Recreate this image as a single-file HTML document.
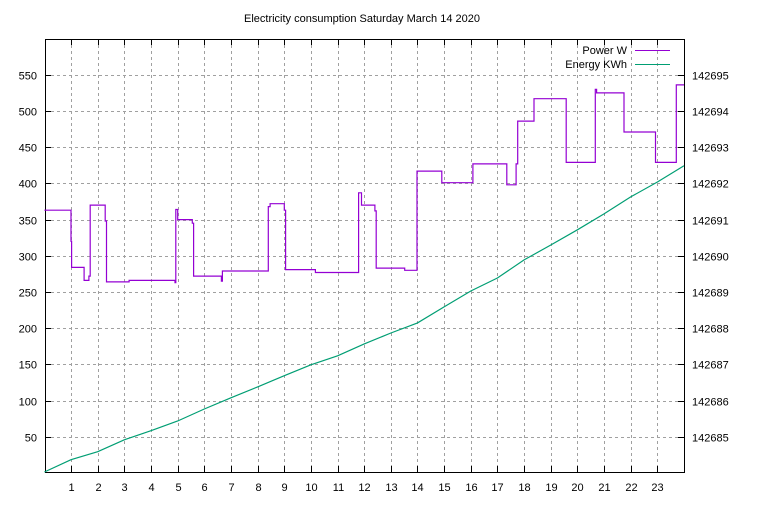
<!DOCTYPE html>
<html><head><meta charset="utf-8"><style>
body{margin:0;background:#fff;}
svg text{font-family:"Liberation Sans",sans-serif;font-size:11px;fill:#000;}
</style></head><body>
<svg id="c" width="768" height="500"></svg>
<script>
const powerHours=[0,1.0,1.02,1.49,1.67,1.72,2.28,2.33,3.18,4.9,4.93,5.0,5.55,5.6,6.64,6.68,8.4,8.47,9.0,9.05,10.17,11.79,11.9,12.4,12.45,13.52,13.98,14.91,16.08,17.35,17.7,17.76,18.37,19.58,20.67,20.72,21.75,22.93,23.71,24];
const powerWatts=[363,320,284,266,272,370,348,264,266,263,364,350,345,272,265,279,368,372,363,281,277,387,370,362,283,280,417,401,427,398,427,486,517,429,530,525,471,429,536,536];
const energyHours=[0,1,2,3,4,5,6,7,8,9,10,11,12,13,14,15,16,17,18,19,20,21,22,23,24];
const energyKWh=[142684.03,142684.37,142684.59,142684.92,142685.17,142685.44,142685.77,142686.08,142686.38,142686.69,142686.99,142687.24,142687.57,142687.87,142688.15,142688.59,142689.03,142689.39,142689.89,142690.30,142690.72,142691.16,142691.63,142692.04,142692.49];
const leftTicks=[50,100,150,200,250,300,350,400,450,500,550];
const rightTicks=[142685,142686,142687,142688,142689,142690,142691,142692,142693,142694,142695];
const xTicks=[1,2,3,4,5,6,7,8,9,10,11,12,13,14,15,16,17,18,19,20,21,22,23];

const L=45,R=684,T=39,B=472;
const xs=h=>44.4+h*(R-44.4)/24;
const yL=w=>473-w*0.724;
const yR=v=>472-(v-142684.03)*36.2;
const svg=document.getElementById('c');
const NS='http://www.w3.org/2000/svg';
function mk(tag,attrs,parent){const e=document.createElementNS(NS,tag);for(const k in attrs)e.setAttribute(k,attrs[k]);(parent||svg).appendChild(e);return e;}

const title=mk('text',{x:362,y:22,'text-anchor':'middle'});


title.textContent='Electricity consumption Saturday March 14 2020';

const grid=mk('g',{stroke:'#a0a0a0','stroke-width':1,'stroke-dasharray':'3,3'});


xTicks.forEach(h=>{const x=Math.round(xs(h))+0.5;mk('line',{x1:x,y1:T,x2:x,y2:B},grid);
 const t=mk('text',{x:x,y:491,'text-anchor':'middle'});
 
 
 t.textContent=h;
 mk('line',{x1:x,y1:B,x2:x,y2:B-6,stroke:'#000'});mk('line',{x1:x,y1:T,x2:x,y2:T+6,stroke:'#000'});});
leftTicks.forEach(w=>{const y=Math.round(yL(w))+0.5;mk('line',{x1:L,y1:y,x2:R,y2:y},grid);
 const t=mk('text',{x:37,y:y+4,'text-anchor':'end'});
 
 
 t.textContent=w;
 mk('line',{x1:L,y1:y,x2:L+6,y2:y,stroke:'#000'});});
rightTicks.forEach(v=>{const y=Math.round(yR(v))+0.5;
 const t=mk('text',{x:692,y:y+4});
 
 
 t.textContent=v;
 mk('line',{x1:R,y1:y,x2:R-6,y2:y,stroke:'#000'});});

const frame=mk('rect',{x:L+0.5,y:T+0.5,width:R-L,height:B-T,fill:'none',stroke:'#000'});



let d='';
powerHours.forEach((h,i)=>{const x=xs(h).toFixed(1),y=yL(powerWatts[i]).toFixed(1);
 if(i===0)d+='M'+x+','+y;else d+='H'+x+'V'+y;});
const p=mk('path',{d:d,fill:'none',stroke:'#9400d3','stroke-width':1.2});



const e=mk('polyline',{points:energyHours.map((h,i)=>xs(h).toFixed(1)+','+yR(energyKWh[i]).toFixed(1)).join(' '),fill:'none',stroke:'#009e73','stroke-width':1.2});



const lg=mk('g',{});


const t1=mk('text',{x:627,y:54,'text-anchor':'end'},lg);


t1.textContent='Power W';
mk('line',{x1:635,y1:50.5,x2:670,y2:50.5,stroke:'#9400d3'},lg);
const t2=mk('text',{x:627,y:68,'text-anchor':'end'},lg);


t2.textContent='Energy KWh';
mk('line',{x1:635,y1:64.5,x2:670,y2:64.5,stroke:'#009e73'},lg);
</script>
</body></html>
